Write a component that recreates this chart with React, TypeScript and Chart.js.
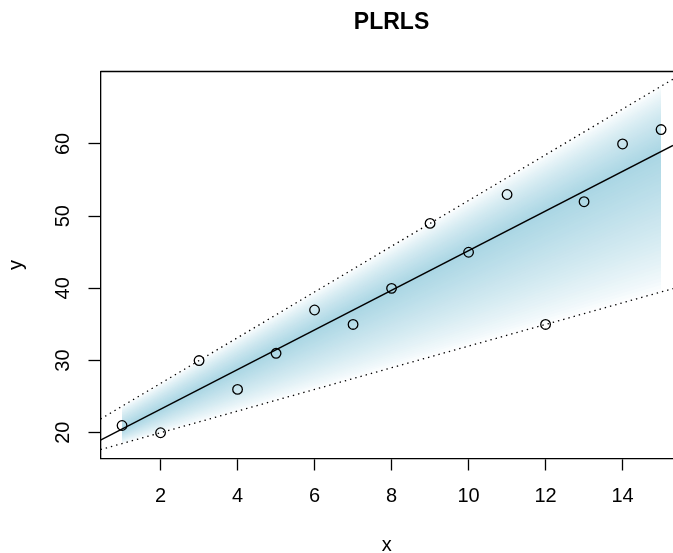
import React, { useEffect, useRef } from 'react';
import { Chart, registerables } from 'chart.js';

Chart.register(...registerables);

// Observations
const xValues = [1, 2, 3, 4, 5, 6, 7, 8, 9, 10, 11, 12, 13, 14, 15];
const yValues = [21, 20, 30, 26, 31, 37, 35, 40, 49, 45, 53, 35, 52, 60, 62];

// Fitted lines: [intercept, slope]
const centerCoef = [17.76, 2.746];
const upperCoef = [20.5, 3.1667];
const lowerCoef = [17.0, 1.5];

// Shaded band spans these x values
const bandX = [1, 15];

// Axis ranges and ticks
const xLimits = [0.44, 15.56];
const visibleXMax = 15.31;
const yLimits = [16.43, 70.04];
const xTicks = [2, 4, 6, 8, 10, 12, 14];
const yTicks = [20, 30, 40, 50, 60];

const titleText = 'PLRLS';
const xTitle = 'x';
const yTitle = 'y';

const FONT = "'Liberation Sans', Arial, Helvetica, sans-serif";

export default function App() {
  const ref = useRef<HTMLCanvasElement>(null);

  useEffect(() => {
    const canvas = ref.current;
    if (!canvas) return;
    const f = (c: number[], x: number) => c[0] + c[1] * x;

    const datasets: any[] = [];
    datasets.push({
      label: 'obs',
      data: xValues.map((x, i) => ({ x, y: yValues[i] })),
      showLine: false,
      pointRadius: 4.8,
      pointBorderWidth: 1.3,
      pointBorderColor: '#000',
      pointBackgroundColor: 'rgba(0,0,0,0)',
      borderColor: '#000',
      fill: false,
    });
    const lineDs = (c: number[], dashed: boolean) => ({
      data: [xLimits[0], visibleXMax].map((x) => ({ x, y: f(c, x) })),
      pointRadius: 0,
      borderColor: '#000',
      borderWidth: dashed ? 1.3 : 1.4,
      borderDash: dashed ? [1.4, 4] : [],
      fill: false,
    });
    datasets.push(lineDs(centerCoef, false));
    datasets.push(lineDs(upperCoef, true));
    datasets.push(lineDs(lowerCoef, true));

    const L = 40;
    const peak = [170, 214, 228];
    for (let k = L - 1; k >= 0; k--) {
      const s = 1 - k / L;
      const up = bandX.map((x) => ({ x, y: f(centerCoef, x) + (f(upperCoef, x) - f(centerCoef, x)) * s }));
      const lo = bandX.map((x) => ({ x, y: f(centerCoef, x) - (f(centerCoef, x) - f(lowerCoef, x)) * s }));
      const m = Math.pow((k + 0.5) / L, 0.75);
      const col = peak.map((p) => Math.round(255 + (p - 255) * m));
      const color = `rgb(${col[0]},${col[1]},${col[2]})`;
      const upIndex = datasets.length;
      datasets.push({ data: up, pointRadius: 0, borderWidth: 0, borderColor: 'rgba(0,0,0,0)', fill: false });
      datasets.push({ data: lo, pointRadius: 0, borderWidth: 0, borderColor: 'rgba(0,0,0,0)', fill: upIndex, backgroundColor: color });
    }

    const framePlugin = {
      id: 'frameAndTitle',
      afterDraw(chart: any) {
        const { ctx, chartArea, scales } = chart;
        ctx.save();
        ctx.strokeStyle = '#000';
        ctx.lineWidth = 1.3;
        ctx.beginPath();
        ctx.moveTo(chartArea.left, chartArea.top);
        ctx.lineTo(chartArea.right, chartArea.top);
        ctx.stroke();
        const cx = scales.x.getPixelForValue((xLimits[0] + xLimits[1]) / 2);
        ctx.font = `bold 23px ${FONT}`;
        ctx.fillStyle = '#000';
        ctx.textAlign = 'center';
        ctx.textBaseline = 'alphabetic';
        ctx.fillText(titleText, cx, 28.5);
        ctx.restore();
      },
    };

    const chart = new Chart(canvas, {
      type: 'line',
      data: { datasets },
      options: {
        animation: false,
        responsive: false,
        devicePixelRatio: 1,
        layout: { autoPadding: false, padding: { top: 71.5, left: 0, right: 0, bottom: 0 } },
        plugins: {
          legend: { display: false },
          tooltip: { enabled: false },
          title: { display: false },
          filler: { drawTime: 'beforeDatasetsDraw', propagate: false },
        } as any,
        scales: {
          x: {
            type: 'linear',
            min: xLimits[0],
            max: visibleXMax,
            afterBuildTicks: (s: any) => {
              s.ticks = xTicks.map((v) => ({ value: v }));
            },
            afterFit: (s: any) => {
              s.height = 94.5;
              s.paddingLeft = 0;
              s.paddingRight = 0;
            },
            ticks: {
              callback: (v: any) => String(v),
              font: { family: FONT, size: 20 },
              color: '#000',
              padding: 13.5,
              autoSkip: false,
              minRotation: 0,
              maxRotation: 0,
            },
            grid: {
              display: true,
              drawOnChartArea: false,
              drawTicks: true,
              tickLength: 12,
              tickColor: '#000',
              tickWidth: 1.3,
            },
            border: { display: true, color: '#000', width: 1.3 },
            title: {
              display: true,
              text: xTitle,
              color: '#000',
              font: { family: FONT, size: 20, lineHeight: 0.8 },
              padding: 0,
            },
          },
          y: {
            type: 'linear',
            min: yLimits[0],
            max: yLimits[1],
            afterBuildTicks: (s: any) => {
              s.ticks = yTicks.map((v) => ({ value: v }));
            },
            afterFit: (s: any) => {
              s.width = 100.5;
              s.paddingTop = 0;
              s.paddingBottom = 0;
            },
            ticks: {
              callback: (v: any) => String(v),
              font: { family: FONT, size: 20 },
              color: '#000',
              padding: 14,
              autoSkip: false,
              minRotation: 90,
              maxRotation: 90,
              crossAlign: 'center',
            },
            grid: {
              display: true,
              drawOnChartArea: false,
              drawTicks: true,
              tickLength: 12,
              tickColor: '#000',
              tickWidth: 1.3,
            },
            border: { display: true, color: '#000', width: 1.3 },
            title: {
              display: true,
              text: yTitle,
              color: '#000',
              font: { family: FONT, size: 20 },
              padding: { top: 4.5, bottom: 0 },
            },
          },
        } as any,
      },
      plugins: [framePlugin],
    });
    return () => chart.destroy();
  }, []);

  return (
    <div style={{ position: 'absolute', left: 0, top: 0, width: 673, height: 553, background: '#fff' }}>
      <canvas ref={ref} width={673} height={553} style={{ display: 'block', width: 673, height: 553 }} />
    </div>
  );
}
